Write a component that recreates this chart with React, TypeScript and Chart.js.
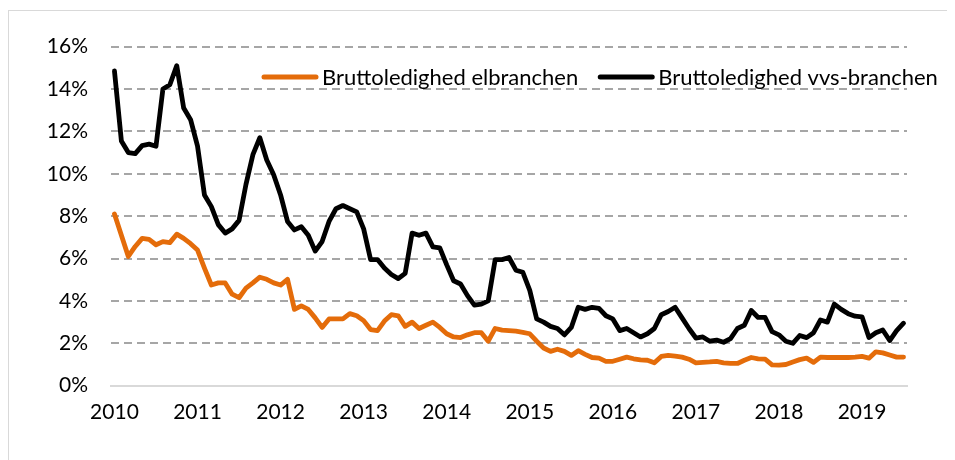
import React, { useEffect, useRef } from "react";
import { Chart, registerables } from "chart.js";

Chart.register(...registerables);

const startYear = 2010;
const monthCount = 115; // Jan 2010 – Jul 2019
const yTicks = [0, 2, 4, 6, 8, 10, 12, 14, 16];

const seriesNames = ["Bruttoledighed elbranchen", "Bruttoledighed vvs-branchen"];
const seriesColors = ["#E46C0A", "#000000"];

const elbranchen = [
  8.1, 7.1, 6.1, 6.57, 6.95, 6.9, 6.65, 6.8, 6.75, 7.15, 6.95, 6.7,
  6.4, 5.55, 4.75, 4.85, 4.85, 4.32, 4.15, 4.6, 4.85, 5.12, 5.02, 4.85,
  4.75, 5.02, 3.6, 3.77, 3.6, 3.2, 2.75, 3.15, 3.15, 3.15, 3.4, 3.3,
  3.07, 2.65, 2.6, 3.05, 3.35, 3.3, 2.8, 3.0, 2.7, 2.85, 3.0, 2.75,
  2.45, 2.3, 2.27, 2.4, 2.5, 2.5, 2.1, 2.7, 2.62, 2.6, 2.57, 2.52,
  2.45, 2.1, 1.78, 1.62, 1.72, 1.62, 1.43, 1.65, 1.48, 1.33, 1.3, 1.15,
  1.15, 1.25, 1.35, 1.27, 1.22, 1.2, 1.08, 1.38, 1.43, 1.4, 1.35, 1.25,
  1.08, 1.1, 1.12, 1.15, 1.08, 1.05, 1.05, 1.2, 1.33, 1.27, 1.25, 0.98,
  0.97, 1.0, 1.12, 1.23, 1.3, 1.1, 1.35, 1.33, 1.33, 1.33, 1.33, 1.35,
  1.38, 1.3, 1.6, 1.55, 1.45, 1.35, 1.35,
];

const vvsbranchen = [
  14.85, 11.55, 11.0, 10.95, 11.33, 11.4, 11.3, 14.0, 14.2, 15.1, 13.1, 12.55,
  11.3, 9.0, 8.45, 7.6, 7.2, 7.4, 7.8, 9.5, 10.9, 11.7, 10.65, 9.95,
  9.0, 7.75, 7.35, 7.5, 7.1, 6.35, 6.8, 7.75, 8.35, 8.5, 8.35, 8.2,
  7.4, 5.95, 5.95, 5.55, 5.25, 5.05, 5.3, 7.2, 7.1, 7.2, 6.55, 6.5,
  5.7, 4.95, 4.8, 4.25, 3.8, 3.85, 4.0, 5.95, 5.95, 6.05, 5.45, 5.35,
  4.5, 3.15, 3.0, 2.8, 2.7, 2.4, 2.75, 3.7, 3.6, 3.7, 3.65, 3.3,
  3.15, 2.6, 2.7, 2.5, 2.3, 2.45, 2.7, 3.35, 3.5, 3.7, 3.2, 2.7,
  2.25, 2.3, 2.1, 2.15, 2.05, 2.22, 2.7, 2.85, 3.55, 3.22, 3.22, 2.55,
  2.4, 2.1, 2.0, 2.37, 2.27, 2.5, 3.1, 3.0, 3.85, 3.6, 3.4, 3.28,
  3.25, 2.27, 2.5, 2.63, 2.13, 2.6, 2.95,
];

const categories: string[] = [];
for (let i = 0; i < monthCount; i++) {
  const y = startYear + Math.floor(i / 12);
  const m = (i % 12) + 1;
  categories.push(`${y}-${m < 10 ? "0" + m : m}`);
}

const FONT = "Lato";
const FONT_SIZE = 21;
const LEGEND_FONT_SIZE = 22;

const legendPlugin = {
  id: "customLegend",
  afterDraw(chart: any) {
    const ctx = chart.ctx as CanvasRenderingContext2D;
    ctx.save();
    ctx.font = `${LEGEND_FONT_SIZE}px ${FONT}`;
    ctx.textBaseline = "middle";
    ctx.fillStyle = "#000";
    const yMid = 66;
    let x = 253;
    const sample = 56;
    const gap = 4;
    const itemGap = 20;
    seriesNames.forEach((name, i) => {
      ctx.strokeStyle = seriesColors[i];
      ctx.lineWidth = 5;
      ctx.lineCap = "round";
      ctx.beginPath();
      ctx.moveTo(x + 2, yMid);
      ctx.lineTo(x + sample - 2, yMid);
      ctx.stroke();
      x += sample + gap;
      ctx.fillText(name, x, yMid + 1);
      x += ctx.measureText(name).width + itemGap;
    });
    ctx.restore();
  },
};

export default function App() {
  const canvasRef = useRef<HTMLCanvasElement | null>(null);

  useEffect(() => {
    document.documentElement.style.overflow = "hidden";
    document.body.style.overflow = "hidden";
    const canvas = canvasRef.current;
    if (!canvas) return;
    const chart = new Chart(canvas, {
      type: "line",
      data: {
        labels: categories,
        datasets: [
          {
            label: seriesNames[0],
            data: elbranchen,
            borderColor: seriesColors[0],
            backgroundColor: seriesColors[0],
            borderWidth: 4.8,
            pointRadius: 0,
            tension: 0,
            borderJoinStyle: "round",
            borderCapStyle: "round",
          },
          {
            label: seriesNames[1],
            data: vvsbranchen,
            borderColor: seriesColors[1],
            backgroundColor: seriesColors[1],
            borderWidth: 4.8,
            pointRadius: 0,
            tension: 0,
            borderJoinStyle: "round",
            borderCapStyle: "round",
          },
        ],
      },
      options: {
        responsive: false,
        animation: false,
        layout: { padding: { top: 32.3, right: 47, bottom: 0, left: 0 } },
        plugins: {
          legend: { display: false },
          tooltip: { enabled: false },
        },
        scales: {
          x: {
            type: "category",
            offset: true,
            grid: { display: false, drawTicks: false },
            border: { display: true, color: "#d9d9d9", width: 2 },
            ticks: {
              autoSkip: false,
              maxRotation: 0,
              minRotation: 0,
              padding: 14,
              color: "#000",
              font: { family: FONT, size: FONT_SIZE },
              callback: (_v: any, i: number) => (i % 12 === 0 ? String(startYear + i / 12) : ""),
            },
            afterFit: (s: any) => {
              s.height = 74.3;
            },
          },
          y: {
            min: 0,
            max: 16,
            afterBuildTicks: (s: any) => {
              s.ticks = yTicks.map((v) => ({ value: v }));
            },
            grid: {
              drawTicks: false,
              lineWidth: 2,
              color: (c: any) => (c.tick && c.tick.value === 0 ? "rgba(0,0,0,0)" : "#a6a6a6"),
            },
            border: { display: false, dash: [8, 5] },
            ticks: {
              padding: 23,
              color: "#000",
              font: { family: FONT, size: FONT_SIZE },
              callback: (v: any) => `${v}%`,
            },
            afterFit: (s: any) => {
              s.width = 102;
            },
          },
        },
      },
      plugins: [legendPlugin],
    });
    return () => chart.destroy();
  }, []);

  return (
    <div
      style={{
        marginTop: 2,
        width: 945,
        height: 449,
        borderTop: "1px solid #d9d9d9",
        borderLeft: "1px solid #d9d9d9",
        borderRight: "1px solid #d9d9d9",
      }}
    >
      <canvas ref={canvasRef} width={945} height={449} style={{ display: "block" }} />
    </div>
  );
}
